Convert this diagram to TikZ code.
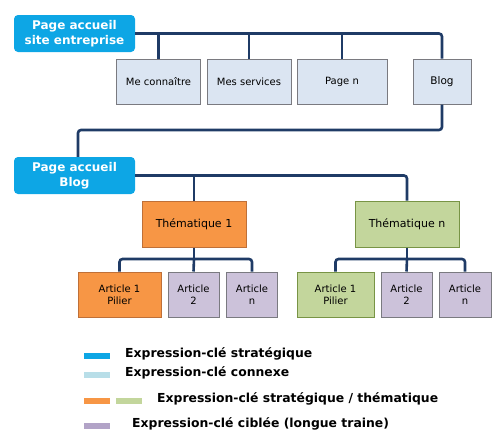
\documentclass[tikz,border=0pt]{standalone}
\usepackage{fontspec}
\setmainfont{DejaVu Sans}
\newlength{\du}
\setlength{\du}{1pt}

\definecolor{bluekey}{rgb}{0.050000, 0.650000, 0.900000}
\definecolor{bluelight}{rgb}{0.720000, 0.870000, 0.910000}
\definecolor{pagefill}{rgb}{0.860000, 0.900000, 0.950000}
\definecolor{pagedraw}{rgb}{0.480000, 0.480000, 0.500000}
\definecolor{orangefill}{rgb}{0.970000, 0.590000, 0.270000}
\definecolor{orangedraw}{rgb}{0.750000, 0.440000, 0.220000}
\definecolor{greenfill}{rgb}{0.765000, 0.840000, 0.610000}
\definecolor{greendraw}{rgb}{0.470000, 0.580000, 0.270000}
\definecolor{purplefill}{rgb}{0.800000, 0.760000, 0.855000}
\definecolor{purplekey}{rgb}{0.700000, 0.640000, 0.780000}
\definecolor{linkcolor}{rgb}{0.120000, 0.230000, 0.400000}

\tikzset{
  homebox/.style={draw=none, fill=bluekey, rounded corners=4\du, text=white,
    align=center, minimum width=121\du, minimum height=37\du, inner sep=0pt,
    font=\bfseries\fontsize{12}{15}\selectfont},
  pagebox/.style={draw=pagedraw, fill=pagefill, line width=1\du, align=center,
    minimum height=45\du, inner sep=0pt, font=\fontsize{10}{12}\selectfont},
  thembox/.style={pagebox, minimum width=104\du, minimum height=46\du,
    font=\fontsize{11}{13}\selectfont},
  articlebox/.style={pagebox, draw=pagedraw, fill=purplefill},
  link/.style={draw=linkcolor, line width=2.6\du, rounded corners=3\du},
  keybar/.style={fill=#1, draw=none, minimum width=26\du, minimum height=6\du, inner sep=0pt},
  keytext/.style={anchor=west, inner sep=0pt, font=\bfseries\fontsize{12.4}{14}\selectfont}
}

\begin{document}
\begin{tikzpicture}
\pgftransformyscale{-1.000000}
\useasboundingbox (0\du,0\du) rectangle (500\du,445\du);

% site
\node[homebox] (site) at (74.5\du,33.5\du){Page accueil\\site entreprise};
\node[pagebox, minimum width=84\du] (moi) at (158.5\du,81.5\du){Me connaître};
\node[pagebox, minimum width=84\du] (services) at (249\du,81.5\du){Mes services};
\node[pagebox, minimum width=90\du] (pagen) at (342\du,81.5\du){Page n};
\node[pagebox, minimum width=58\du, font=\fontsize{10.5}{12}\selectfont] (blog) at (442\du,81.5\du){Blog};

% blog
\node[homebox] (home) at (74.5\du,175.5\du){Page accueil\\Blog};
\node[thembox, draw=orangedraw, fill=orangefill] (them1) at (194\du,224\du){Thématique 1};
\node[thembox, draw=greendraw, fill=greenfill] (themn) at (407\du,224\du){Thématique n};

\node[pagebox, minimum width=83\du, draw=orangedraw, fill=orangefill] (pilier1) at (119.5\du,294.5\du){Article 1\\Pilier};
\node[articlebox, minimum width=51\du] (art12) at (193.5\du,294.5\du){Article\\2};
\node[articlebox, minimum width=51\du] (art1n) at (252\du,294.5\du){Article\\n};
\node[pagebox, minimum width=77\du, draw=greendraw, fill=greenfill] (pilierm) at (335.5\du,294.5\du){Article 1\\Pilier};
\node[articlebox, minimum width=51\du] (artm2) at (406.5\du,294.5\du){Article\\2};
\node[articlebox, minimum width=52\du] (artmn) at (465\du,294.5\du){Article\\n};

\coordinate (down) at (78\du,130\du);
\coordinate (join1) at (194\du,259\du);
\coordinate (joinm) at (407\du,259\du);

% liens
\draw[link] (site.east) -| (blog.north);
\draw[link] (moi.north) -- (moi.north |- site.east);
\draw[link] (services.north) -- (services.north |- site.east);
\draw[link] (pagen.north) -- (pagen.north |- site.east);
\draw[link] (blog.south) |- (down) -- (down |- home.north);
\draw[link] (home.east) -| (themn.north);
\draw[link] (them1.north) -- (them1.north |- home.east);
\draw[link] (them1.south) -- (join1);
\draw[link] (pilier1.north) |- (join1) -| (art1n.north);
\draw[link] (art12.north) -- (join1);
\draw[link] (themn.south) -- (joinm);
\draw[link] (pilierm.north) |- (joinm) -| (artmn.north);
\draw[link] (artm2.north) -- (joinm);

% legende
\node[keybar=bluekey] (k1) at (97\du,356\du){};
\node[keybar=bluelight] (k2) at (97\du,375\du){};
\node[keybar=orangefill] (k3) at (97\du,401\du){};
\node[keybar=greenfill] (k3b) at (129\du,401\du){};
\node[keybar=purplekey] (k4) at (97\du,426\du){};
\node[keytext] (t1) at (125\du,353.5\du){Expression-clé stratégique};
\node[keytext] (t2) at (125\du,372.5\du){Expression-clé connexe};
\node[keytext] (t3) at (157\du,398.5\du){Expression-clé stratégique / thématique};
\node[keytext] (t4) at (132\du,423.5\du){Expression-clé ciblée (longue traine)};
\end{tikzpicture}
\end{document}
